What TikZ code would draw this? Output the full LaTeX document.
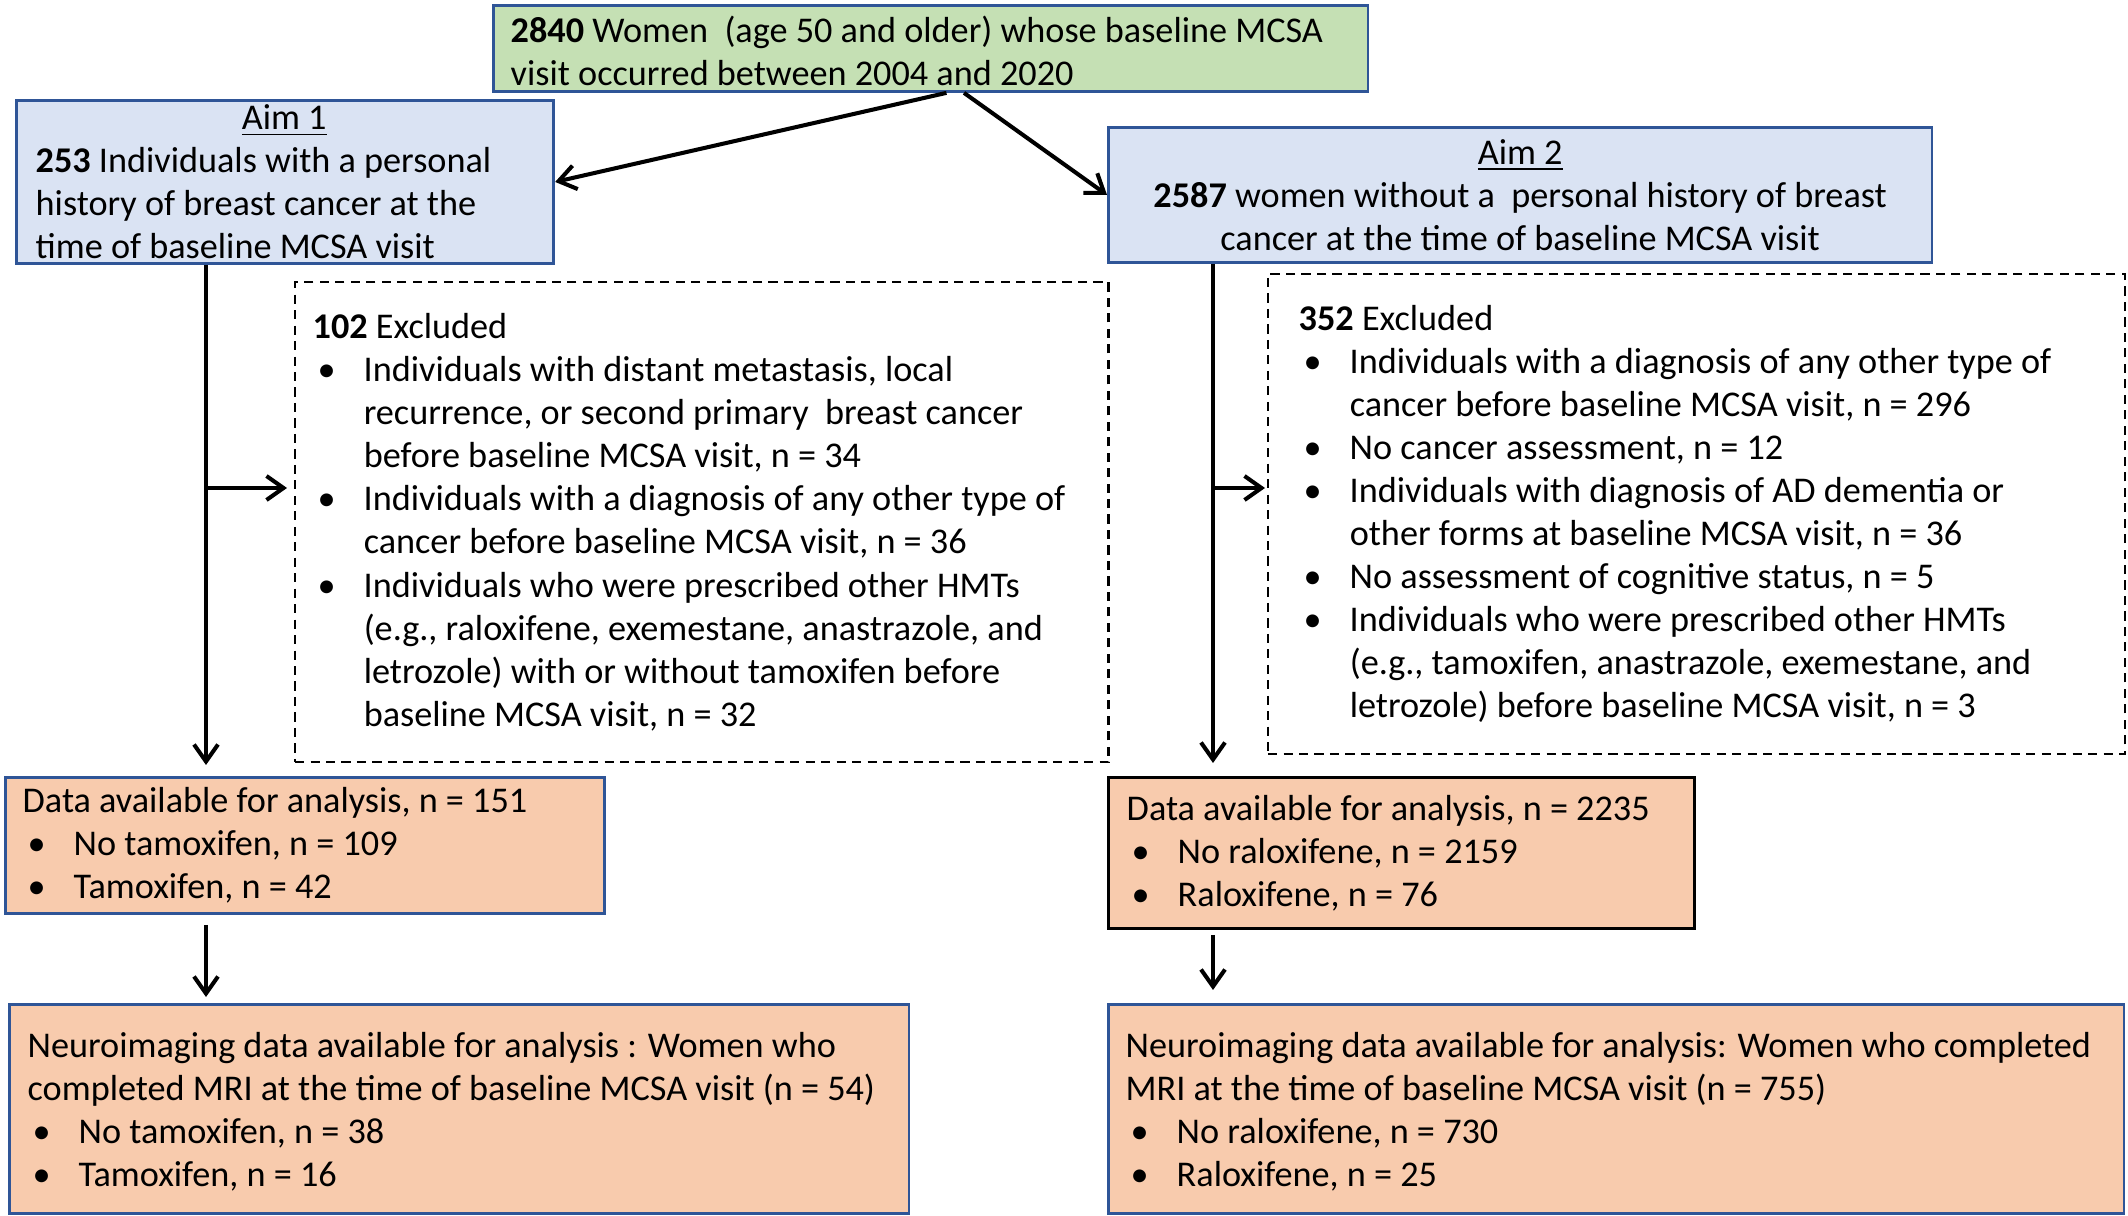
\documentclass[tikz,border=0pt]{standalone}
\usepackage{fontspec}
\setmainfont{Carlito}
\usetikzlibrary{arrows.meta,calc}
\definecolor{gfill}{HTML}{C5E0B4}
\definecolor{bfill}{HTML}{DAE3F3}
\definecolor{ofill}{HTML}{F8CBAD}
\definecolor{bord}{HTML}{2F5597}
\newcommand{\bul}{\makebox[0.51cm][l]{\hspace{0.05cm}•}}
\newcommand{\ind}{\hspace*{0.51cm}}
\tikzset{
  box/.style={draw=bord, line width=0.8pt, anchor=north west, inner sep=0pt},
  exbox/.style={draw=black, line width=0.6pt, dash pattern=on 2.6pt off 1.8pt, anchor=north west, inner sep=0pt},
  txt/.style={align=left, inner sep=0pt, anchor=west, font=\fontsize{10.3pt}{12.24pt}\selectfont},
  ctxt/.style={align=center, inner sep=0pt, anchor=center, font=\fontsize{10.3pt}{12.24pt}\selectfont},
  arr/.style={line width=1.15pt, -{Straight Barb[length=0.17cm,width=0.24cm]}},
}
\begin{document}
\begin{tikzpicture}[x=0.01cm, y=-0.01cm]
\useasboundingbox (0,0) rectangle (2128,1216);

% top box
\node[box, fill=gfill, minimum width=8.74cm, minimum height=0.86cm] (green) at (492,4) {};
\node[txt] (greent) at ([xshift=0.18cm, yshift=-0.02cm]green.west)
  {\textbf{2840} Women\ \ (age 50 and older) whose baseline MCSA\\ visit occurred between 2004 and 2020};

% aim boxes
\node[box, fill=bfill, minimum width=5.37cm, minimum height=1.63cm] (aim1) at (15,99) {};
\node[txt] (aim1t) at ([xshift=0.2cm]aim1.west)
  {\hspace*{2.06cm}\underline{Aim 1}\\ \textbf{253} Individuals with a personal\\ history of breast cancer at the\\ time of baseline MCSA visit};

\node[box, fill=bfill, minimum width=8.23cm, minimum height=1.35cm] (aim2) at (1107,126) {};
\node[ctxt] (aim2t) at (aim2.center)
  {\underline{Aim 2}\\ \textbf{2587} women without a\ \ personal history of breast\\ cancer at the time of baseline MCSA visit};

% excluded boxes
\node[exbox, minimum width=8.13cm, minimum height=4.80cm] (excl1) at (294,281) {};
\node[txt] (excl1t) at ([xshift=0.18cm]excl1.west)
  {\textbf{102} Excluded\\
   \bul Individuals with distant metastasis, local\\
   \ind recurrence, or second primary\ \ breast cancer\\
   \ind before baseline MCSA visit, n = 34\\
   \bul Individuals with a diagnosis of any other type of\\
   \ind cancer before baseline MCSA visit, n = 36\\
   \bul Individuals who were prescribed other HMTs\\
   \ind (e.g., raloxifene, exemestane, anastrazole, and\\
   \ind letrozole) with or without tamoxifen before\\
   \ind baseline MCSA visit, n = 32};

\node[exbox, minimum width=8.56cm, minimum height=4.80cm] (excl2) at (1267,273) {};
\node[txt] (excl2t) at ([xshift=0.31cm]excl2.west)
  {\textbf{352} Excluded\\
   \bul Individuals with a diagnosis of any other type of\\
   \ind cancer before baseline MCSA visit, n = 296\\
   \bul No cancer assessment, n = 12\\
   \bul Individuals with diagnosis of AD dementia or\\
   \ind other forms at baseline MCSA visit, n = 36\\
   \bul No assessment of cognitive status, n = 5\\
   \bul Individuals who were prescribed other HMTs\\
   \ind (e.g., tamoxifen, anastrazole, exemestane, and\\
   \ind letrozole) before baseline MCSA visit, n = 3};

% data boxes
\node[box, fill=ofill, minimum width=5.99cm, minimum height=1.36cm] (data1) at (4,776) {};
\node[txt] (data1t) at ([xshift=0.18cm]data1.west)
  {Data available for analysis, n = 151\\
   \bul No tamoxifen, n = 109\\
   \bul Tamoxifen, n = 42};

\node[box, draw=black, fill=ofill, minimum width=5.86cm, minimum height=1.51cm] (data2) at (1107,776) {};
\node[txt] (data2t) at ([xshift=0.19cm]data2.west)
  {Data available for analysis, n = 2235\\
   \bul No raloxifene, n = 2159\\
   \bul Raloxifene, n = 76};

% neuro boxes
\node[box, fill=ofill, minimum width=8.99cm, minimum height=2.09cm] (neuro1) at (8,1003) {};
\node[txt] (neuro1t) at ([xshift=0.19cm, yshift=-0.03cm]neuro1.west)
  {Neuroimaging data available for analysis : Women who\\
   completed MRI at the time of baseline MCSA visit (n = 54)\\
   \bul No tamoxifen, n = 38\\
   \bul Tamoxifen, n = 16};

\node[box, fill=ofill, minimum width=10.15cm, minimum height=2.09cm] (neuro2) at (1107,1003) {};
\node[txt] (neuro2t) at ([xshift=0.18cm, yshift=-0.03cm]neuro2.west)
  {Neuroimaging data available for analysis: Women who completed\\
   MRI at the time of baseline MCSA visit (n = 755)\\
   \bul No raloxifene, n = 730\\
   \bul Raloxifene, n = 25};

% helper coordinates
\coordinate (v1) at (206,0);
\coordinate (v2) at (1213,0);
\coordinate (b1) at (0,488);

% connectors
\draw[arr] ($(green.south west)!0.518!(green.south east)$) -- (aim1.east);
\draw[arr] ($(green.south west)!0.538!(green.south east)$) -- (aim2.west);
\draw[arr, shorten >=0.11cm] (aim1.south -| v1) -- (data1.north -| v1);
\draw[arr, shorten >=0.07cm] (v1 |- b1) -- (excl1.west |- b1);
\draw[arr, shorten >=0.13cm] (aim2.south -| v2) -- (data2.north -| v2);
\draw[arr, shorten >=0.02cm] (v2 |- b1) -- (excl2.west |- b1);
\draw[arr, shorten <=0.10cm, shorten >=0.06cm] (data1.south -| v1) -- (neuro1.north -| v1);
\draw[arr, shorten <=0.05cm, shorten >=0.13cm] (data2.south -| v2) -- (neuro2.north -| v2);
\end{tikzpicture}
\end{document}
